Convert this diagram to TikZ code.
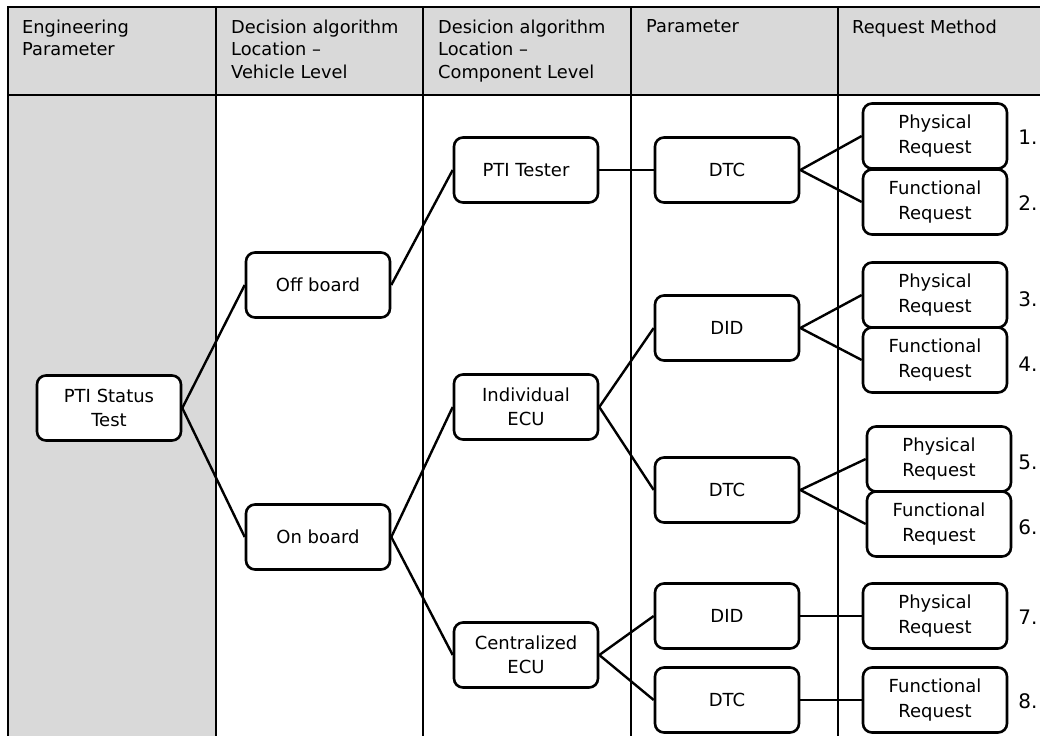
\documentclass[tikz,border=0pt]{standalone}
\usepackage{fontspec}
\setmainfont{DejaVu Sans}
\begin{document}
\begin{tikzpicture}[x=1pt,y=-1pt,
  box/.style={draw=black,line width=2.6pt,rounded corners=9pt,fill=white,minimum width=144pt,minimum height=65pt,inner sep=0pt,align=center,font=\fontsize{18}{24.5}\selectfont},
  link/.style={line width=2.4pt,black},
  grid/.style={line width=1.4pt,black},
  head/.style={anchor=north west,align=left,inner sep=0pt,font=\fontsize{17.8}{22.6}\selectfont},
  num/.style={inner sep=0pt,font=\fontsize{20}{24}\selectfont}]
\useasboundingbox (0,0) rectangle (1040,736);
% table backgrounds
\fill[gray!30] (8,7) rectangle (1040,95);
\fill[gray!30] (8,95) rectangle (216,736);
\draw[grid] (1040,7) -- (8,7) -- (8,736);
\draw[grid] (8,95) -- (1040,95);
\foreach \x in {216,423,631,838} \draw[grid] (\x,7) -- (\x,736);
% headers
\node[head] (h1) at (22,19.5) {Engineering\\Parameter};
\node[head] (h2) at (231,19.5) {Decision algorithm\\Location --\\Vehicle Level};
\node[head] (h3) at (438,19.5) {Desicion algorithm\\Location --\\Component Level};
\node[head] (h4) at (646,19.5) {Parameter};
\node[head] (h5) at (852,19.5) {Request Method};
% nodes
\node[box] (pti) at (109,408) {PTI Status\\Test};
\node[box] (off) at (318,285) {Off board};
\node[box] (on) at (318,537) {On board};
\node[box] (tester) at (526,170) {PTI Tester};
\node[box] (indiv) at (526,407) {Individual\\ECU};
\node[box] (central) at (526,655) {Centralized\\ECU};
\node[box] (dtcA) at (727,170) {DTC};
\node[box] (didA) at (727,328) {DID};
\node[box] (dtcB) at (727,490) {DTC};
\node[box] (didB) at (727,616) {DID};
\node[box] (dtcC) at (727,700) {DTC};
\node[box] (r1) at (935,136) {Physical\\Request};
\node[box] (r2) at (935,202) {Functional\\Request};
\node[box] (r3) at (935,295) {Physical\\Request};
\node[box] (r4) at (935,360) {Functional\\Request};
\node[box] (r5) at (939,459) {Physical\\Request};
\node[box] (r6) at (939,524) {Functional\\Request};
\node[box] (r7) at (935,616) {Physical\\Request};
\node[box] (r8) at (935,700) {Functional\\Request};
% numbers
\node[num] (n1) at (1028,137) {1.};
\node[num] (n2) at (1028,203) {2.};
\node[num] (n3) at (1028,299) {3.};
\node[num] (n4) at (1028,364) {4.};
\node[num] (n5) at (1028,462) {5.};
\node[num] (n6) at (1028,527) {6.};
\node[num] (n7) at (1028,617) {7.};
\node[num] (n8) at (1028,701) {8.};
% links
\draw[link] (pti.east) -- (off.west);
\draw[link] (pti.east) -- (on.west);
\draw[link] (off.east) -- (tester.west);
\draw[link] (on.east) -- (indiv.west);
\draw[link] (on.east) -- (central.west);
\draw[link] (tester.east) -- (dtcA.west);
\draw[link] (indiv.east) -- (didA.west);
\draw[link] (indiv.east) -- (dtcB.west);
\draw[link] (central.east) -- (didB.west);
\draw[link] (central.east) -- (dtcC.west);
\draw[link] (dtcA.east) -- (r1.west);
\draw[link] (dtcA.east) -- (r2.west);
\draw[link] (didA.east) -- (r3.west);
\draw[link] (didA.east) -- (r4.west);
\draw[link] (dtcB.east) -- (r5.west);
\draw[link] (dtcB.east) -- (r6.west);
\draw[link] (didB.east) -- (r7.west);
\draw[link] (dtcC.east) -- (r8.west);
\end{tikzpicture}
\end{document}
